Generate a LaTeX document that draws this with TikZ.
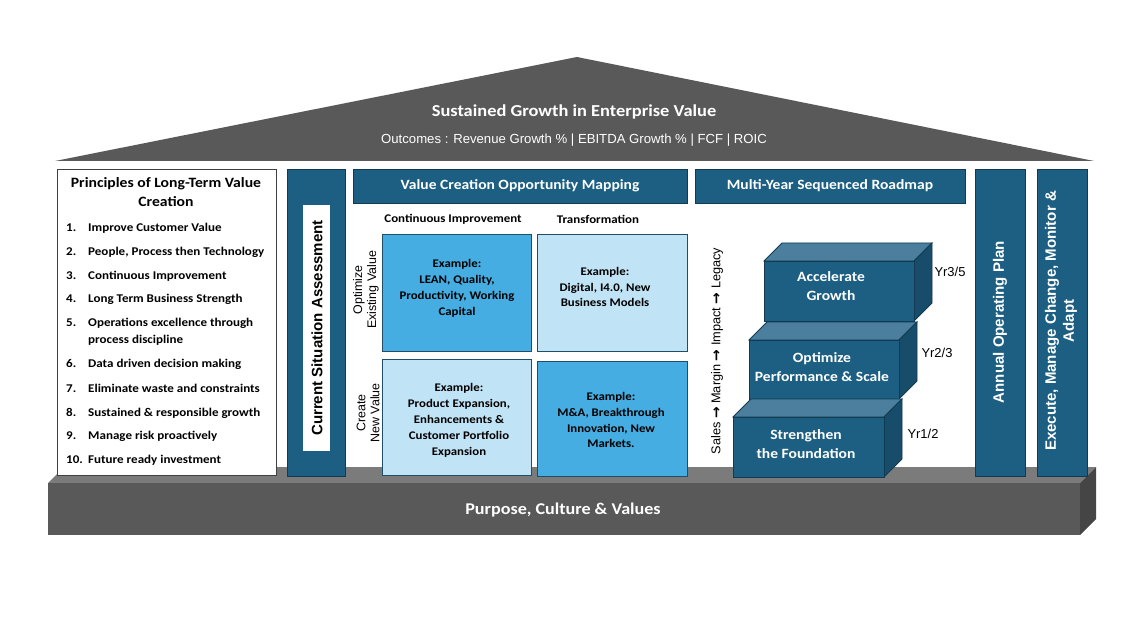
\documentclass[tikz,border=0pt]{standalone}
\usepackage{fontspec}
\setmainfont{Carlito}[FakeStretch=1.1]
\newfontfamily\arialf{Liberation Sans}
\newfontfamily\dejaf{DejaVu Sans}
\newcommand\myfs[2]{\fontsize{#1}{#2}\selectfont}
\definecolor{dblue}{HTML}{1C5F82}
\definecolor{dline}{HTML}{123A50}
\definecolor{mblue}{HTML}{45ADE1}
\definecolor{lblue}{HTML}{C0E3F5}
\definecolor{cline}{HTML}{1F4E66}
\definecolor{roofg}{HTML}{595959}
\definecolor{basetop}{HTML}{7B7B7B}
\definecolor{baseside}{HTML}{454545}
\definecolor{steptop}{HTML}{4B7F9D}
\definecolor{stepside}{HTML}{174D6A}
\tikzset{
  box/.style={inner sep=0pt, outer sep=0pt, anchor=north west},
  pillar/.style={box, fill=dblue, draw=dline, line width=0.8bp},
  hdrtxt/.style={text=white, font=\bfseries\myfs{14.2}{17}},
  cell/.style={box, draw=cline, line width=0.8bp},
  celltxt/.style={font=\bfseries\myfs{11.7}{16}, align=center, text=black},
  numtxt/.style={anchor=base west, inner sep=0pt, font=\bfseries\myfs{11.9}{14}},
  steptxt/.style={text=white, font=\bfseries\myfs{14.2}{19}, align=center},
  yrtxt/.style={font=\arialf\myfs{13}{15}},
  vtxt/.style={rotate=90, font=\arialf\bfseries\myfs{15.1}{18}, align=center},
  rowtxt/.style={rotate=90, font=\arialf\myfs{12.5}{14}, align=center},
}
\newcommand\myarr{{\dejaf\bfseries\myfs{14}{14}\raisebox{-0.5bp}{→}}}
\newcommand\mystep[5]{%
  \filldraw[fill=steptop, draw=dline, line width=0.8bp] (#1,#2) -- ({#1+18},{#2-18}) -- ({#3+18},{#2-18}) -- (#3,#2) -- cycle;
  \filldraw[fill=stepside, draw=dline, line width=0.8bp] (#3,#2) -- ({#3+18},{#2-18}) -- ({#3+18},{#4-18}) -- (#3,#4) -- cycle;
  \node[box, fill=dblue, draw=dline, line width=0.8bp, minimum width={(#3-#1)*1bp}, minimum height={(#4-#2)*1bp}] (#5) at (#1,#2) {};
}
\begin{document}
\begin{tikzpicture}[x=1bp,y=-1bp]
\useasboundingbox[fill=white] (0,0) rectangle (1148,620);
% roof
\fill[roofg] (55,161) -- (577,57) -- (1094,161) -- cycle;
\node[text=white, font=\bfseries\myfs{16.8}{19}] (rooftitle) at (574,112) {Sustained Growth in Enterprise Value};
\node[text=white, font=\arialf\myfs{13.2}{15}] (outcomes) at (574,140) {Outcomes : Revenue Growth \% | EBITDA Growth \% | FCF | ROIC};
% base
\fill[basetop] (48,483) -- (64,467) -- (1096,467) -- (1080,483) -- cycle;
\fill[baseside] (1080,483) -- (1096,467) -- (1096,519) -- (1080,535) -- cycle;
\node[box, fill=roofg, minimum width=1032bp, minimum height=52bp] (base) at (48,483) {};
\node[text=white, font=\bfseries\myfs{16.5}{19}] (basetxt) at (563,510) {Purpose, Culture \& Values};
% principles
\node[box, fill=white, draw=black!75, line width=0.7bp, minimum width=219bp, minimum height=306bp] (princ) at (57,169) {};
\node[font=\bfseries\myfs{14.3}{18.5}, align=center] (ptitle) at (166,192) {Principles of Long-Term Value\\Creation};
\foreach \n/\t/\y in {1/Improve Customer Value/228, 2/{People, Process then Technology}/252, 3/Continuous Improvement/276, 4/Long Term Business Strength/299, 6/Data driven decision making/363, 7/Eliminate waste and constraints/388, 8/Sustained \& responsible growth/412, 9/Manage risk proactively/435, 10/Future ready investment/459}{
  \node[numtxt] (num\n) at (66,\y+4) {\n.};
  \node[numtxt] (item\n) at (88,\y+4) {\t};
}
\node[numtxt] (num5) at (66,327) {5.};
\node[numtxt] (item5) at (88,327) {Operations excellence through};
\node[numtxt] (item5b) at (88,344) {process discipline};
% current situation assessment
\node[pillar, minimum width=58bp, minimum height=307bp] (csa) at (287,169) {};
\node[box, fill=white, minimum width=27bp, minimum height=246bp] (csain) at (303,205) {};
\node[vtxt, text=black] (csatxt) at (317,328) {Current Situation Assessment};
% value creation header
\node[pillar, minimum width=334bp, minimum height=34bp] (vchdr) at (353,169) {};
\node[hdrtxt] (vctxt) at (520,186) {Value Creation Opportunity Mapping};
\node[font=\bfseries\myfs{11.8}{15}] (colci) at (453,219) {Continuous Improvement};
\node[font=\bfseries\myfs{11.8}{15}] (coltr) at (598,219) {Transformation};
\node[rowtxt] (rowopt) at (366,290) {Optimize\\Existing Value};
\node[rowtxt] (rowcre) at (368,413) {Create\\New Value};
% cells
\node[cell, fill=mblue, minimum width=149bp, minimum height=117bp] (c11) at (382,234) {};
\node[cell, fill=lblue, minimum width=150bp, minimum height=117bp] (c12) at (537,234) {};
\node[cell, fill=lblue, minimum width=149bp, minimum height=116bp] (c21) at (382,359) {};
\node[cell, fill=mblue, minimum width=150bp, minimum height=115bp] (c22) at (537,361) {};
\node[celltxt] (t11) at (457,288) {Example:\\LEAN, Quality,\\Productivity, Working\\Capital};
\node[celltxt] (t12) at (605,287) {Example:\\Digital, I4.0, New\\Business Models};
\node[celltxt] (t21) at (459,420) {Example:\\Product Expansion,\\Enhancements \&\\Customer Portfolio\\Expansion};
\node[celltxt] (t22) at (611,420) {Example:\\M\&A, Breakthrough\\Innovation, New\\Markets.};
% multi-year header
\node[pillar, minimum width=270bp, minimum height=34bp] (myhdr) at (695,169) {};
\node[hdrtxt] (mytxt) at (830,186) {Multi-Year Sequenced Roadmap};
\node[rotate=90, font=\arialf\myfs{12.8}{14}] (legacy) at (717,351) {Sales \myarr{} Margin \myarr{} Impact \myarr{} Legacy};
% steps
\mystep{764}{261}{914}{321}{s3}
\mystep{749}{340}{899}{399}{s2}
\mystep{733}{417}{884}{477}{s1}
\node[steptxt] (s3txt) at (831,286) {Accelerate\\Growth};
\node[steptxt] (s2txt) at (822,367) {Optimize\\Performance \& Scale};
\node[steptxt] (s1txt) at (806,444) {Strengthen\\the Foundation};
\node[yrtxt] (yr3) at (950,272) {Yr3/5};
\node[yrtxt] (yr2) at (937,353) {Yr2/3};
\node[yrtxt] (yr1) at (923,434) {Yr1/2};
% right pillars
\node[pillar, minimum width=50bp, minimum height=307bp] (aop) at (975,169) {};
\node[vtxt, text=white] (aoptxt) at (1000,322) {Annual Operating Plan};
\node[pillar, minimum width=50bp, minimum height=307bp] (exe) at (1037,169) {};
\node[vtxt, text=white] (exetxt) at (1061,321) {Execute, Manage Change, Monitor \&\\Adapt};
\end{tikzpicture}
\end{document}
